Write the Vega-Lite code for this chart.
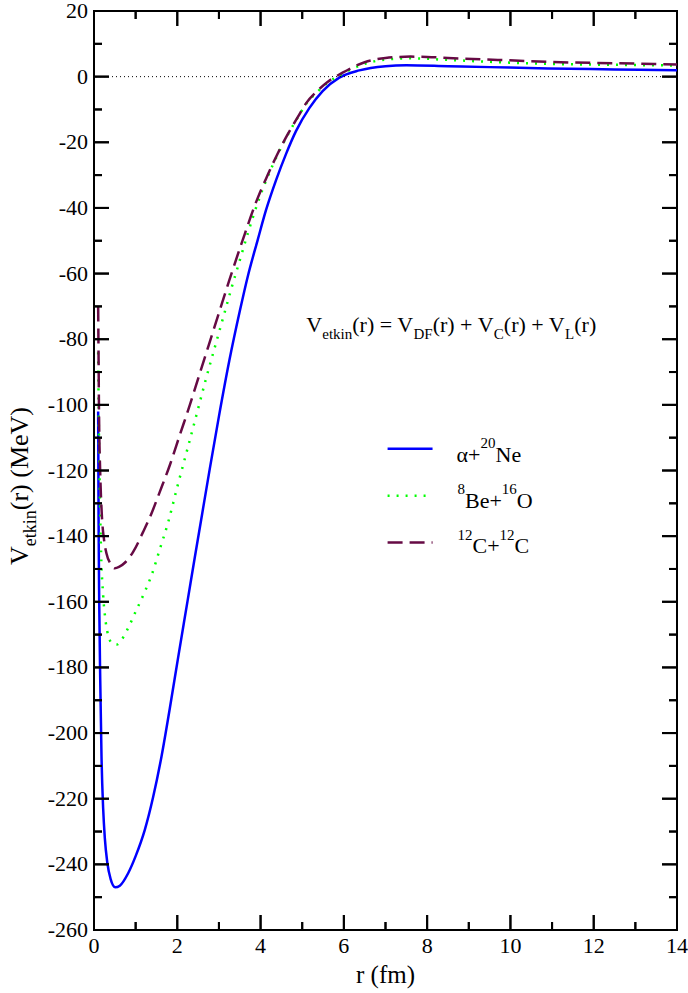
{
 "$schema": "https://vega.github.io/schema/vega-lite/v6.json",
 "width": 583,
 "height": 919,
 "autosize": "none",
 "padding": {"left": 94, "top": 11, "right": 11, "bottom": 63},
 "background": "white",
 "config": {
  "font": "Liberation Serif",
  "text": {"font": "Liberation Serif"},
  "view": {"stroke": "black", "strokeWidth": 2}
 },
 "datasets": {
  "xmaj": [{"v": 0}, {"v": 2}, {"v": 4}, {"v": 6}, {"v": 8}, {"v": 10}, {"v": 12}, {"v": 14}],
  "xmin": [{"v": 1}, {"v": 3}, {"v": 5}, {"v": 7}, {"v": 9}, {"v": 11}, {"v": 13}],
  "ymaj": [{"v": -260}, {"v": -240}, {"v": -220}, {"v": -200}, {"v": -180}, {"v": -160}, {"v": -140}, {"v": -120}, {"v": -100}, {"v": -80}, {"v": -60}, {"v": -40}, {"v": -20}, {"v": 0}, {"v": 20}],
  "ymin": [{"v": -250}, {"v": -230}, {"v": -210}, {"v": -190}, {"v": -170}, {"v": -150}, {"v": -130}, {"v": -110}, {"v": -90}, {"v": -70}, {"v": -50}, {"v": -30}, {"v": -10}, {"v": 10}],
  "xlab": [{"t": "0", "v": 0}, {"t": "2", "v": 2}, {"t": "4", "v": 4}, {"t": "6", "v": 6}, {"t": "8", "v": 8}, {"t": "10", "v": 10}, {"t": "12", "v": 12}, {"t": "14", "v": 14}],
  "ylab": [{"t": "-260", "v": -260}, {"t": "-240", "v": -240}, {"t": "-220", "v": -220}, {"t": "-200", "v": -200}, {"t": "-180", "v": -180}, {"t": "-160", "v": -160}, {"t": "-140", "v": -140}, {"t": "-120", "v": -120}, {"t": "-100", "v": -100}, {"t": "-80", "v": -80}, {"t": "-60", "v": -60}, {"t": "-40", "v": -40}, {"t": "-20", "v": -20}, {"t": "0", "v": 0}, {"t": "20", "v": 20}],
  "curves": [
   {"s": "a", "r": 0.10, "V": -102}, {"s": "a", "r": 0.11, "V": -135}, {"s": "a", "r": 0.125, "V": -160}, {"s": "a", "r": 0.15, "V": -184}, {"s": "a", "r": 0.18, "V": -207}, {"s": "a", "r": 0.22, "V": -223}, {"s": "a", "r": 0.26, "V": -232}, {"s": "a", "r": 0.32, "V": -239.5}, {"s": "a", "r": 0.40, "V": -244.5}, {"s": "a", "r": 0.51, "V": -247}, {"s": "a", "r": 0.62, "V": -246.5}, {"s": "a", "r": 0.82, "V": -242.7}, {"s": "a", "r": 1.0, "V": -237.5}, {"s": "a", "r": 1.22, "V": -229.5}, {"s": "a", "r": 1.42, "V": -219.5}, {"s": "a", "r": 1.62, "V": -207.2}, {"s": "a", "r": 1.82, "V": -192.5}, {"s": "a", "r": 2.02, "V": -177}, {"s": "a", "r": 2.25, "V": -159.5}, {"s": "a", "r": 2.42, "V": -146.5}, {"s": "a", "r": 2.6, "V": -133}, {"s": "a", "r": 2.78, "V": -119.5}, {"s": "a", "r": 3.0, "V": -103.5}, {"s": "a", "r": 3.25, "V": -86.5}, {"s": "a", "r": 3.5, "V": -71.5}, {"s": "a", "r": 3.7, "V": -60.5}, {"s": "a", "r": 3.93, "V": -49.8}, {"s": "a", "r": 4.13, "V": -40.7}, {"s": "a", "r": 4.37, "V": -31.6}, {"s": "a", "r": 4.61, "V": -23.6}, {"s": "a", "r": 4.85, "V": -16.6}, {"s": "a", "r": 5.17, "V": -9.6}, {"s": "a", "r": 5.49, "V": -4.4}, {"s": "a", "r": 5.89, "V": -0.3}, {"s": "a", "r": 6.37, "V": 1.9}, {"s": "a", "r": 7.0, "V": 3.2}, {"s": "a", "r": 7.5, "V": 3.5}, {"s": "a", "r": 8.5, "V": 3.2}, {"s": "a", "r": 9.5, "V": 2.9}, {"s": "a", "r": 10.9, "V": 2.5}, {"s": "a", "r": 12.5, "V": 2.2}, {"s": "a", "r": 14, "V": 1.95},
   {"s": "b", "r": 0.10, "V": -84}, {"s": "b", "r": 0.115, "V": -105}, {"s": "b", "r": 0.135, "V": -123}, {"s": "b", "r": 0.17, "V": -145}, {"s": "b", "r": 0.22, "V": -158}, {"s": "b", "r": 0.28, "V": -166}, {"s": "b", "r": 0.36, "V": -171}, {"s": "b", "r": 0.45, "V": -172.8}, {"s": "b", "r": 0.55, "V": -173}, {"s": "b", "r": 0.65, "V": -171.8}, {"s": "b", "r": 0.8, "V": -168.5}, {"s": "b", "r": 1.0, "V": -163}, {"s": "b", "r": 1.2, "V": -157.5}, {"s": "b", "r": 1.38, "V": -152}, {"s": "b", "r": 1.58, "V": -144}, {"s": "b", "r": 1.78, "V": -135.8}, {"s": "b", "r": 2.0, "V": -125}, {"s": "b", "r": 2.23, "V": -114.1}, {"s": "b", "r": 2.46, "V": -103.1}, {"s": "b", "r": 2.68, "V": -92.5}, {"s": "b", "r": 2.9, "V": -82.5}, {"s": "b", "r": 3.1, "V": -73.5}, {"s": "b", "r": 3.3, "V": -64.5}, {"s": "b", "r": 3.5, "V": -56}, {"s": "b", "r": 3.7, "V": -47.5}, {"s": "b", "r": 3.93, "V": -38.5}, {"s": "b", "r": 4.17, "V": -30.5}, {"s": "b", "r": 4.4, "V": -24}, {"s": "b", "r": 4.65, "V": -17.8}, {"s": "b", "r": 4.9, "V": -12.3}, {"s": "b", "r": 5.1, "V": -8.2}, {"s": "b", "r": 5.35, "V": -4.8}, {"s": "b", "r": 5.6, "V": -2.0}, {"s": "b", "r": 5.97, "V": 0.9}, {"s": "b", "r": 6.5, "V": 3.9}, {"s": "b", "r": 7.0, "V": 5.2}, {"s": "b", "r": 7.6, "V": 5.6}, {"s": "b", "r": 8.5, "V": 5.1}, {"s": "b", "r": 9.7, "V": 4.4}, {"s": "b", "r": 10.9, "V": 3.9}, {"s": "b", "r": 12.5, "V": 3.6}, {"s": "b", "r": 14, "V": 3.4},
   {"s": "c", "r": 0.10, "V": -70}, {"s": "c", "r": 0.11, "V": -86}, {"s": "c", "r": 0.12, "V": -102}, {"s": "c", "r": 0.15, "V": -121}, {"s": "c", "r": 0.19, "V": -134}, {"s": "c", "r": 0.24, "V": -141}, {"s": "c", "r": 0.30, "V": -145.3}, {"s": "c", "r": 0.40, "V": -148.5}, {"s": "c", "r": 0.50, "V": -149.8}, {"s": "c", "r": 0.60, "V": -149.4}, {"s": "c", "r": 0.74, "V": -148.1}, {"s": "c", "r": 0.94, "V": -144.8}, {"s": "c", "r": 1.18, "V": -138.7}, {"s": "c", "r": 1.38, "V": -133.1}, {"s": "c", "r": 1.58, "V": -126.5}, {"s": "c", "r": 1.82, "V": -118.4}, {"s": "c", "r": 2.06, "V": -109.2}, {"s": "c", "r": 2.3, "V": -100.1}, {"s": "c", "r": 2.54, "V": -90.4}, {"s": "c", "r": 2.75, "V": -82}, {"s": "c", "r": 3.0, "V": -72}, {"s": "c", "r": 3.25, "V": -62}, {"s": "c", "r": 3.57, "V": -49.8}, {"s": "c", "r": 3.93, "V": -37}, {"s": "c", "r": 4.17, "V": -30}, {"s": "c", "r": 4.4, "V": -23.7}, {"s": "c", "r": 4.65, "V": -17.6}, {"s": "c", "r": 4.9, "V": -12.2}, {"s": "c", "r": 5.1, "V": -8}, {"s": "c", "r": 5.35, "V": -4.5}, {"s": "c", "r": 5.6, "V": -1.7}, {"s": "c", "r": 5.97, "V": 1.2}, {"s": "c", "r": 6.5, "V": 4.4}, {"s": "c", "r": 7.0, "V": 5.7}, {"s": "c", "r": 7.6, "V": 6.1}, {"s": "c", "r": 8.0, "V": 6.0}, {"s": "c", "r": 8.5, "V": 5.7}, {"s": "c", "r": 9.7, "V": 5.1}, {"s": "c", "r": 10.9, "V": 4.5}, {"s": "c", "r": 12.5, "V": 4.1}, {"s": "c", "r": 14, "V": 3.7}
  ]
 },
 "layer": [
  {
   "data": {"name": "curves"},
   "transform": [{"filter": "datum.s == 'a'"}],
   "mark": {"type": "line", "color": "#0000ff", "strokeWidth": 2.5, "interpolate": "monotone"},
   "encoding": {
    "x": {"field": "r", "type": "quantitative", "scale": {"domain": [0, 14], "nice": false, "zero": false}, "axis": null},
    "y": {"field": "V", "type": "quantitative", "scale": {"domain": [-260, 20], "nice": false, "zero": false}, "axis": null}
   }
  },
  {
   "data": {"name": "curves"},
   "transform": [{"filter": "datum.s == 'b'"}],
   "mark": {"type": "line", "color": "#00ff00", "strokeWidth": 2.5, "strokeDash": [2, 7], "interpolate": "monotone"},
   "encoding": {"x": {"field": "r", "type": "quantitative", "axis": null}, "y": {"field": "V", "type": "quantitative", "axis": null}}
  },
  {
   "data": {"name": "curves"},
   "transform": [{"filter": "datum.s == 'c'"}],
   "mark": {"type": "line", "color": "#660a44", "strokeWidth": 2.5, "strokeDash": [15, 7], "interpolate": "monotone"},
   "encoding": {"x": {"field": "r", "type": "quantitative", "axis": null}, "y": {"field": "V", "type": "quantitative", "axis": null}}
  },
  {"data": {"name": "xmaj"}, "mark": {"type": "rule", "color": "black", "strokeWidth": 2}, "encoding": {"x": {"field": "v", "type": "quantitative", "axis": null}, "y": {"datum": -260, "type": "quantitative", "axis": null}, "y2": {"datum": -255.43}}},
  {"data": {"name": "xmin"}, "mark": {"type": "rule", "color": "black", "strokeWidth": 2}, "encoding": {"x": {"field": "v", "type": "quantitative", "axis": null}, "y": {"datum": -260, "type": "quantitative", "axis": null}, "y2": {"datum": -257.56}}},
  {"data": {"name": "xmaj"}, "mark": {"type": "rule", "color": "black", "strokeWidth": 2}, "encoding": {"x": {"field": "v", "type": "quantitative", "axis": null}, "y": {"datum": 20, "type": "quantitative", "axis": null}, "y2": {"datum": 15.43}}},
  {"data": {"name": "xmin"}, "mark": {"type": "rule", "color": "black", "strokeWidth": 2}, "encoding": {"x": {"field": "v", "type": "quantitative", "axis": null}, "y": {"datum": 20, "type": "quantitative", "axis": null}, "y2": {"datum": 17.56}}},
  {"data": {"name": "ymaj"}, "mark": {"type": "rule", "color": "black", "strokeWidth": 2}, "encoding": {"y": {"field": "v", "type": "quantitative", "axis": null}, "x": {"datum": 0, "type": "quantitative", "axis": null}, "x2": {"datum": 0.3602}}},
  {"data": {"name": "ymin"}, "mark": {"type": "rule", "color": "black", "strokeWidth": 2}, "encoding": {"y": {"field": "v", "type": "quantitative", "axis": null}, "x": {"datum": 0, "type": "quantitative", "axis": null}, "x2": {"datum": 0.1921}}},
  {"data": {"name": "ymaj"}, "mark": {"type": "rule", "color": "black", "strokeWidth": 2}, "encoding": {"y": {"field": "v", "type": "quantitative", "axis": null}, "x": {"datum": 14, "type": "quantitative", "axis": null}, "x2": {"datum": 13.6398}}},
  {"data": {"name": "ymin"}, "mark": {"type": "rule", "color": "black", "strokeWidth": 2}, "encoding": {"y": {"field": "v", "type": "quantitative", "axis": null}, "x": {"datum": 14, "type": "quantitative", "axis": null}, "x2": {"datum": 13.8079}}},
  {"data": {"name": "xmaj"}, "mark": {"type": "tick", "orient": "vertical", "size": 15, "thickness": 2, "color": "black", "opacity": 1}, "encoding": {"x": {"field": "v", "type": "quantitative", "axis": null}, "y": {"datum": -257.715, "type": "quantitative", "axis": null}}},
  {"data": {"name": "xmin"}, "mark": {"type": "tick", "orient": "vertical", "size": 8, "thickness": 2, "color": "black", "opacity": 1}, "encoding": {"x": {"field": "v", "type": "quantitative", "axis": null}, "y": {"datum": -258.781, "type": "quantitative", "axis": null}}},
  {"data": {"name": "xmaj"}, "mark": {"type": "tick", "orient": "vertical", "size": 15, "thickness": 2, "color": "black", "opacity": 1}, "encoding": {"x": {"field": "v", "type": "quantitative", "axis": null}, "y": {"datum": 17.715, "type": "quantitative", "axis": null}}},
  {"data": {"name": "xmin"}, "mark": {"type": "tick", "orient": "vertical", "size": 8, "thickness": 2, "color": "black", "opacity": 1}, "encoding": {"x": {"field": "v", "type": "quantitative", "axis": null}, "y": {"datum": 18.781, "type": "quantitative", "axis": null}}},
  {"data": {"name": "ymaj"}, "mark": {"type": "tick", "orient": "horizontal", "size": 15, "thickness": 2, "color": "black", "opacity": 1}, "encoding": {"y": {"field": "v", "type": "quantitative", "axis": null}, "x": {"datum": 0.1801, "type": "quantitative", "axis": null}}},
  {"data": {"name": "ymin"}, "mark": {"type": "tick", "orient": "horizontal", "size": 8, "thickness": 2, "color": "black", "opacity": 1}, "encoding": {"y": {"field": "v", "type": "quantitative", "axis": null}, "x": {"datum": 0.0961, "type": "quantitative", "axis": null}}},
  {"data": {"name": "ymaj"}, "mark": {"type": "tick", "orient": "horizontal", "size": 15, "thickness": 2, "color": "black", "opacity": 1}, "encoding": {"y": {"field": "v", "type": "quantitative", "axis": null}, "x": {"datum": 13.8199, "type": "quantitative", "axis": null}}},
  {"data": {"name": "ymin"}, "mark": {"type": "tick", "orient": "horizontal", "size": 8, "thickness": 2, "color": "black", "opacity": 1}, "encoding": {"y": {"field": "v", "type": "quantitative", "axis": null}, "x": {"datum": 13.9039, "type": "quantitative", "axis": null}}},
  {"data": {"name": "xlab"}, "mark": {"type": "text", "align": "center", "baseline": "top", "fontSize": 22, "color": "black"}, "encoding": {"x": {"field": "v", "type": "quantitative", "axis": null}, "y": {"datum": -261.83, "type": "quantitative", "axis": null}, "text": {"field": "t", "type": "nominal"}}},
  {"data": {"name": "ylab"}, "mark": {"type": "text", "align": "right", "baseline": "middle", "fontSize": 22, "color": "black"}, "encoding": {"y": {"field": "v", "type": "quantitative", "axis": null}, "x": {"datum": -0.144, "type": "quantitative", "axis": null}, "text": {"field": "t", "type": "nominal"}}},
  {"data": {"values": [{}]}, "mark": {"type": "text", "text": "r (fm)", "align": "center", "baseline": "alphabetic", "fontSize": 25, "color": "black"}, "encoding": {"x": {"datum": 7, "type": "quantitative", "axis": null}, "y": {"datum": -276.3, "type": "quantitative", "axis": null}}},
  {
   "data": {"values": [{}]},
   "mark": {"type": "rule", "color": "#0000ff", "strokeWidth": 2.5},
   "encoding": {"x": {"datum": 7.05, "type": "quantitative", "axis": null}, "x2": {"datum": 8.13}, "y": {"datum": -113.4, "type": "quantitative", "axis": null}}
  },
  {
   "data": {"values": [{}]},
   "mark": {"type": "rule", "color": "#00ff00", "strokeWidth": 2.5, "strokeDash": [2, 7]},
   "encoding": {"x": {"datum": 7.05, "type": "quantitative", "axis": null}, "x2": {"datum": 8.13}, "y": {"datum": -127.7, "type": "quantitative", "axis": null}}
  },
  {
   "data": {"values": [{}]},
   "mark": {"type": "rule", "color": "#660a44", "strokeWidth": 2.5, "strokeDash": [15, 7]},
   "encoding": {"x": {"datum": 7.05, "type": "quantitative", "axis": null}, "x2": {"datum": 8.13}, "y": {"datum": -141.9, "type": "quantitative", "axis": null}}
  },
  {
   "data": {"values": [{}]},
   "mark": {"type": "rule", "color": "black", "strokeWidth": 1, "strokeDash": [1, 3]},
   "encoding": {"y": {"datum": 0, "type": "quantitative", "axis": null}}
  },
  {"data": {"values": [{}]}, "mark": {"type": "text", "text": "V", "align": "left", "baseline": "alphabetic", "fontSize": 22, "color": "black"}, "encoding": {"x": {"datum": 5.099, "type": "quantitative", "axis": null}, "y": {"datum": -77.8, "type": "quantitative", "axis": null}}},
  {"data": {"values": [{}]}, "mark": {"type": "text", "text": "etkin", "align": "left", "baseline": "alphabetic", "fontSize": 15, "color": "black"}, "encoding": {"x": {"datum": 5.481, "type": "quantitative", "axis": null}, "y": {"datum": -80.0, "type": "quantitative", "axis": null}}},
  {"data": {"values": [{}]}, "mark": {"type": "text", "text": "(r) = V", "align": "left", "baseline": "alphabetic", "fontSize": 22, "color": "black"}, "encoding": {"x": {"datum": 6.201, "type": "quantitative", "axis": null}, "y": {"datum": -77.8, "type": "quantitative", "axis": null}}},
  {"data": {"values": [{}]}, "mark": {"type": "text", "text": "DF", "align": "left", "baseline": "alphabetic", "fontSize": 15, "color": "black"}, "encoding": {"x": {"datum": 7.671, "type": "quantitative", "axis": null}, "y": {"datum": -80.0, "type": "quantitative", "axis": null}}},
  {"data": {"values": [{}]}, "mark": {"type": "text", "text": "(r) + V", "align": "left", "baseline": "alphabetic", "fontSize": 22, "color": "black"}, "encoding": {"x": {"datum": 8.132, "type": "quantitative", "axis": null}, "y": {"datum": -77.8, "type": "quantitative", "axis": null}}},
  {"data": {"values": [{}]}, "mark": {"type": "text", "text": "C", "align": "left", "baseline": "alphabetic", "fontSize": 15, "color": "black"}, "encoding": {"x": {"datum": 9.602, "type": "quantitative", "axis": null}, "y": {"datum": -80.0, "type": "quantitative", "axis": null}}},
  {"data": {"values": [{}]}, "mark": {"type": "text", "text": "(r) + V", "align": "left", "baseline": "alphabetic", "fontSize": 22, "color": "black"}, "encoding": {"x": {"datum": 9.842, "type": "quantitative", "axis": null}, "y": {"datum": -77.8, "type": "quantitative", "axis": null}}},
  {"data": {"values": [{}]}, "mark": {"type": "text", "text": "L", "align": "left", "baseline": "alphabetic", "fontSize": 15, "color": "black"}, "encoding": {"x": {"datum": 11.312, "type": "quantitative", "axis": null}, "y": {"datum": -80.0, "type": "quantitative", "axis": null}}},
  {"data": {"values": [{}]}, "mark": {"type": "text", "text": "(r)", "align": "left", "baseline": "alphabetic", "fontSize": 22, "color": "black"}, "encoding": {"x": {"datum": 11.532, "type": "quantitative", "axis": null}, "y": {"datum": -77.8, "type": "quantitative", "axis": null}}},
  {"data": {"values": [{}]}, "mark": {"type": "text", "text": "α+", "align": "left", "baseline": "alphabetic", "fontSize": 22, "color": "black"}, "encoding": {"x": {"datum": 8.705, "type": "quantitative", "axis": null}, "y": {"datum": -117.3, "type": "quantitative", "axis": null}}},
  {"data": {"values": [{}]}, "mark": {"type": "text", "text": "20", "align": "left", "baseline": "alphabetic", "fontSize": 15, "color": "black"}, "encoding": {"x": {"datum": 9.283, "type": "quantitative", "axis": null}, "y": {"datum": -113.2, "type": "quantitative", "axis": null}}},
  {"data": {"values": [{}]}, "mark": {"type": "text", "text": "Ne", "align": "left", "baseline": "alphabetic", "fontSize": 22, "color": "black"}, "encoding": {"x": {"datum": 9.642, "type": "quantitative", "axis": null}, "y": {"datum": -117.3, "type": "quantitative", "axis": null}}},
  {"data": {"values": [{}]}, "mark": {"type": "text", "text": "8", "align": "left", "baseline": "alphabetic", "fontSize": 15, "color": "black"}, "encoding": {"x": {"datum": 8.73, "type": "quantitative", "axis": null}, "y": {"datum": -127.2, "type": "quantitative", "axis": null}}},
  {"data": {"values": [{}]}, "mark": {"type": "text", "text": "Be+", "align": "left", "baseline": "alphabetic", "fontSize": 22, "color": "black"}, "encoding": {"x": {"datum": 8.91, "type": "quantitative", "axis": null}, "y": {"datum": -131.3, "type": "quantitative", "axis": null}}},
  {"data": {"values": [{}]}, "mark": {"type": "text", "text": "16", "align": "left", "baseline": "alphabetic", "fontSize": 15, "color": "black"}, "encoding": {"x": {"datum": 9.79, "type": "quantitative", "axis": null}, "y": {"datum": -127.2, "type": "quantitative", "axis": null}}},
  {"data": {"values": [{}]}, "mark": {"type": "text", "text": "O", "align": "left", "baseline": "alphabetic", "fontSize": 22, "color": "black"}, "encoding": {"x": {"datum": 10.15, "type": "quantitative", "axis": null}, "y": {"datum": -131.3, "type": "quantitative", "axis": null}}},
  {"data": {"values": [{}]}, "mark": {"type": "text", "text": "12", "align": "left", "baseline": "alphabetic", "fontSize": 15, "color": "black"}, "encoding": {"x": {"datum": 8.73, "type": "quantitative", "axis": null}, "y": {"datum": -141.2, "type": "quantitative", "axis": null}}},
  {"data": {"values": [{}]}, "mark": {"type": "text", "text": "C+", "align": "left", "baseline": "alphabetic", "fontSize": 22, "color": "black"}, "encoding": {"x": {"datum": 9.09, "type": "quantitative", "axis": null}, "y": {"datum": -145.1, "type": "quantitative", "axis": null}}},
  {"data": {"values": [{}]}, "mark": {"type": "text", "text": "12", "align": "left", "baseline": "alphabetic", "fontSize": 15, "color": "black"}, "encoding": {"x": {"datum": 9.74, "type": "quantitative", "axis": null}, "y": {"datum": -141.2, "type": "quantitative", "axis": null}}},
  {"data": {"values": [{}]}, "mark": {"type": "text", "text": "C", "align": "left", "baseline": "alphabetic", "fontSize": 22, "color": "black"}, "encoding": {"x": {"datum": 10.10, "type": "quantitative", "axis": null}, "y": {"datum": -145.1, "type": "quantitative", "axis": null}}},
  {"data": {"values": [{}]}, "mark": {"type": "text", "text": "V", "align": "left", "baseline": "alphabetic", "angle": 270, "fontSize": 26, "color": "black"}, "encoding": {"x": {"datum": -1.578, "type": "quantitative", "axis": null}, "y": {"datum": -148.8, "type": "quantitative", "axis": null}}},
  {"data": {"values": [{}]}, "mark": {"type": "text", "text": "etkin", "align": "left", "baseline": "alphabetic", "angle": 270, "fontSize": 18, "color": "black"}, "encoding": {"x": {"datum": -1.398, "type": "quantitative", "axis": null}, "y": {"datum": -143.1, "type": "quantitative", "axis": null}}},
  {"data": {"values": [{}]}, "mark": {"type": "text", "text": "(r) (MeV)", "align": "left", "baseline": "alphabetic", "angle": 270, "fontSize": 26, "color": "black"}, "encoding": {"x": {"datum": -1.578, "type": "quantitative", "axis": null}, "y": {"datum": -132.1, "type": "quantitative", "axis": null}}}
 ]
}
